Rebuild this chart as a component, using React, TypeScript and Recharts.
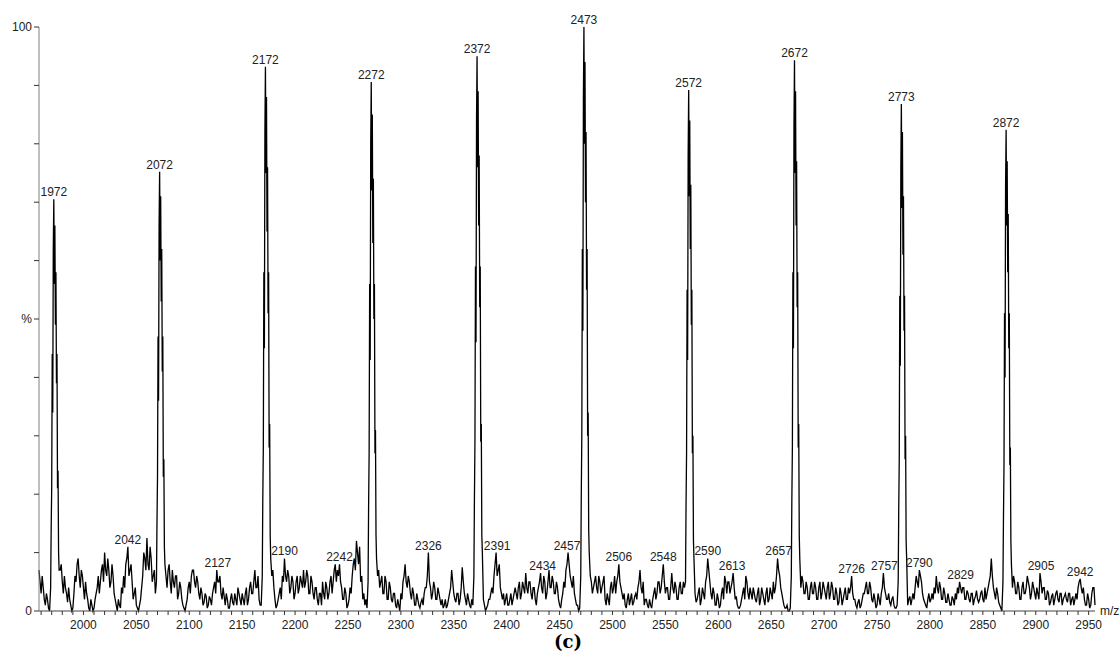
import React from "react";
import { LineChart, Line, XAxis, YAxis, ReferenceDot } from "recharts";

// Baseline noise sampled at even m/z (1958, 1960, ...), 25 values per row = 50 m/z
const EVEN_START = 1958;
const ODD_START = 1959;
const BASE_STEP = 2;
const baselineEven: number[] = [
  7, 3, 4, 1, 2, 0, 1, 0, 0, 0, 7, 5, 6, 3, 4, 1, 0.5, 6, 8, 6, 7, 4, 5, 2, 0,
  1, 0.5, 3, 6, 5, 8, 10, 6, 7, 5, 6, 2, 0, 1, 4, 6, 8, 11, 7, 5, 3, 1, 0, 2, 6,
  9, 12.5, 7, 9, 6, 3, 1, 0, 0, 0, 6, 7, 5, 7, 4, 6, 3, 4, 1, 0, 2, 5, 6, 7, 4,
  5, 2, 3, 1.5, 2.5, 1, 2, 3, 5, 7, 5, 3, 4, 1, 2, 0.5, 3, 1, 2, 4, 2, 3, 1, 4, 2,
  5, 3, 7, 4, 2, 1, 3, 0, 0, 0, 6, 4, 0.5, 2, 4, 6, 9, 5, 6, 4, 5, 3, 6, 4, 5,
  7, 5, 6, 3, 5, 2, 4, 1, 3, 5, 2, 4, 3, 6, 5, 8, 7, 8, 4, 2, 3, 1, 4, 6, 9,
  12, 8, 5, 2, 1, 0.5, 2, 0, 0, 0, 6, 4, 6, 3, 5, 2, 4, 1.5, 3, 0.5, 1, 3, 5, 8, 4,
  5, 2, 3, 1, 2, 0.5, 2, 3, 4, 10, 4, 3, 4, 2, 3, 1, 0.5, 2, 1, 3, 7, 3, 1.5, 3, 2,
  7.5, 3, 1, 2, 0.5, 1, 3, 0, 0, 0, 2, 0, 1, 2, 4, 6, 10, 7, 4, 2, 1, 3, 1, 3, 2,
  4, 2, 5, 3, 4, 6.5, 3, 5, 2, 4, 1, 4, 6.5, 3, 5, 3, 7, 4, 5, 3, 4, 1, 2, 5, 7,
  10, 6, 4, 3, 1, 0, 2, 0, 0, 0, 0, 5, 4, 6, 3, 5, 4, 6, 1, 2, 4, 3, 6, 5, 8,
  4, 2, 1, 2, 1, 3, 1.5, 3, 4, 7, 3, 1, 2, 0.5, 1, 2, 4, 3, 5, 4, 8, 3, 4, 2, 6.5,
  3, 4, 2, 5, 3, 4, 1, 0, 0, 0, 3, 2, 4, 2, 3, 5, 9, 5, 2, 3, 1, 2, 1, 4, 6,
  3, 5, 4, 6.5, 2, 1, 0.5, 2, 4, 6, 3, 4, 2, 3, 1.5, 4, 2, 3, 1, 4, 2, 3, 5, 4, 9,
  6, 3, 1, 0.5, 0, 0.5, 1, 0, 0, 0, 4, 5, 3, 4, 2, 5, 3, 4, 2, 5, 3, 4, 2, 5, 3,
  4, 2, 3, 1.5, 3, 2, 4, 2, 3, 6, 2, 1, 1.5, 0.5, 2, 3, 5, 3, 4, 1.5, 2, 1, 2, 3, 6.5,
  3, 2, 1.5, 2, 1, 0.5, 1, 0, 0, 0, 0, 2, 1, 3, 4, 5, 7, 5, 2, 1, 2, 1.5, 3, 4, 6,
  3, 4, 2, 3, 1.5, 2, 1, 2, 3, 4, 5, 3, 4, 2, 3, 1.5, 3, 2, 3.5, 1.5, 3, 2, 4, 3, 5,
  9, 4, 2, 3, 1, 0, 1, 0, 0, 0, 4, 5, 3, 4, 2, 5, 3, 6, 4, 3, 4, 2, 3, 6.5, 3,
  4, 2, 3, 1.5, 3, 2, 3.5, 1.5, 3, 2, 3, 1.5, 3, 2, 1, 3, 4, 5.5, 3, 2, 1, 2, 1, 4, 1,
];
// Baseline noise sampled at odd m/z (1959, 1961, ...)
const baselineOdd: number[] = [
  5, 6, 2, 3, 0.5, 0, 0, 0, 0, 0, 8, 3, 4, 1.5, 2, 0, 3, 5, 9, 4, 6, 2, 3, 0.5, 2,
  0, 2, 4, 3, 7, 5, 7, 9, 4, 8, 3, 1, 2, 0.5, 3, 4, 9, 6, 8, 2, 4, 0.5, 1, 4, 10,
  7, 8, 11, 5, 7, 2, 0, 0, 0, 0, 4, 8, 3, 5, 6, 2, 5, 2, 0.5, 1, 4, 3, 7, 5, 6,
  3, 4, 1, 3, 0.5, 2.5, 1, 4, 3, 5, 6, 2, 2.5, 3, 0.5, 2, 1.5, 3, 1, 3, 1, 2, 3, 1, 4,
  3, 5, 4, 6, 1, 0, 0, 0, 0, 0, 7, 2, 1, 3, 2, 5, 6, 7, 3, 6, 2, 5, 3, 6, 4,
  4, 7, 3, 6, 3, 4, 2, 3, 1, 3, 5, 2, 5, 3, 7, 5, 6, 5, 2, 4, 0.5, 2, 3, 8, 7,
  10, 11, 6, 3, 2, 0, 0, 0, 0, 0, 7, 5, 3, 6, 2, 5, 2, 3, 1, 2, 0, 2, 6, 5, 6,
  3, 4, 1, 3, 1, 1.5, 1, 4, 6, 5, 2, 5, 2, 4, 2, 2, 1, 0.5, 2, 4, 5, 2, 3, 1, 4,
  5, 2, 3, 1, 2, 0, 0, 0, 0, 0, 1, 0.5, 2, 3, 3, 8, 6, 8, 3, 3, 2, 1, 2, 1, 3,
  3, 4, 2, 5, 3, 4, 5, 3, 4, 2, 3, 5, 4, 6, 2, 5, 4, 6, 3, 5, 2, 0.5, 3, 4, 8,
  8, 5, 6, 2, 1, 0.5, 0, 0, 0, 0, 6, 3, 5, 4, 6, 3, 5, 2, 3, 1, 5, 4, 3, 6, 5,
  3, 3, 0.5, 3, 2, 1, 2.5, 2, 5, 4, 5, 2, 1, 2, 0.5, 3, 2, 5, 3, 6, 5, 4, 2, 4, 4,
  5, 2, 4, 3, 5, 0, 0, 0, 0, 0, 1.5, 3, 1, 4, 2, 6, 7, 3, 4, 1, 3, 0.5, 3, 2, 5,
  5, 3, 5, 4, 2.5, 0.5, 1, 3, 2, 5, 2, 3, 4, 2, 3, 1, 4, 2, 3, 1.5, 4, 2, 3, 6, 7,
  4, 2, 0.5, 1, 0, 0, 0, 0, 0, 0, 6, 3, 5, 2, 4, 3, 5, 2, 4, 2, 5, 3, 4, 2, 5,
  2, 4, 1, 4, 1, 3, 2, 4, 4, 3, 2, 0.5, 2, 1, 3, 4, 3, 5, 2, 3, 0.5, 3, 1, 4, 4,
  2, 3, 1, 2.5, 0.5, 1, 0, 0, 0, 0, 1, 2.5, 2, 2, 6, 4, 6, 3, 1.5, 0.5, 3, 2, 2, 3, 4,
  5, 2, 4, 1.5, 3, 1, 2.5, 1, 2, 3, 4, 4, 2, 3.5, 2, 3, 1, 2.5, 2, 2, 3.5, 1.5, 2, 4, 6,
  6, 3, 4, 1.5, 0.5, 0, 0, 0, 0, 0, 6, 3, 5, 2, 4, 3, 4, 5, 2, 5, 3, 4, 2, 5, 4,
  2, 3.5, 1, 2.5, 1, 3, 2, 3, 1, 2.5, 2, 3, 1, 2.5, 2, 2, 5, 4, 4, 1, 3, 0.5, 3, 4,
];

// Major peaks: centre m/z and intensity profile at fixed offsets from the centre
const peakCenters: number[] = [1972, 2072, 2172, 2272, 2372, 2473, 2572, 2672, 2773, 2872];
const PROFILE_OFFSETS: number[] = [-3, -2.5, -2, -1.5, -1, -0.5, 0, 0.5, 1, 1.5, 2, 2.5, 3, 3.5, 4, 4.5, 5];
const peak1972: number[] = [4, 14, 21, 44, 34, 62, 70.5, 56, 66, 49, 58, 39, 44, 21, 24, 10, 7];
const peak2072: number[] = [5, 15, 23, 47, 36, 66, 75.2, 60, 71, 53, 62, 41, 47, 23, 26, 11, 8];
const peak2172: number[] = [6, 19, 28, 58, 45, 82, 93.2, 75, 88, 65, 76, 51, 58, 28, 32, 13, 9];
const peak2272: number[] = [5, 18, 27, 56, 43, 80, 90.6, 72, 85, 63, 74, 50, 56, 27, 31, 13, 9];
const peak2372: number[] = [6, 19, 29, 59, 46, 84, 95, 76, 89, 66, 78, 52, 59, 29, 32, 13, 10];
const peak2473: number[] = [6, 20, 30, 62, 48, 88, 100, 80, 94, 70, 82, 55, 62, 30, 34, 14, 10];
const peak2572: number[] = [5, 18, 27, 55, 43, 78, 89.2, 71, 84, 62, 73, 49, 55, 27, 30, 12, 9];
const peak2672: number[] = [6, 19, 28, 58, 45, 83, 94.3, 75, 89, 66, 77, 52, 58, 28, 32, 13, 9];
const peak2773: number[] = [5, 17, 26, 54, 42, 76, 86.8, 69, 82, 61, 71, 48, 54, 26, 30, 12, 9];
const peak2872: number[] = [5, 16, 25, 51, 40, 73, 82.4, 66, 77, 58, 68, 45, 51, 25, 28, 12, 8];
const peakProfiles: number[][] = [
  peak1972, peak2072, peak2172, peak2272, peak2372,
  peak2473, peak2572, peak2672, peak2773, peak2872,
];

// Peak annotations
const labelMz: number[] = [
  1972, 2072, 2172, 2272, 2372, 2473, 2572, 2672, 2773, 2872,
  2042, 2127, 2190, 2242, 2326, 2391, 2434, 2457, 2506, 2548,
  2590, 2613, 2657, 2726, 2757, 2790, 2829, 2905, 2942,
];
const labelValue: number[] = [
  70.5, 75.2, 93.2, 90.6, 95, 100, 89.2, 94.3, 86.8, 82.4,
  11, 7, 9, 8, 10, 10, 6.5, 10, 8, 8,
  9, 6.5, 9, 6, 6.5, 7, 5, 6.5, 5.5,
];

const yTicks: number[] = [0, 10, 20, 30, 40, 50, 60, 70, 80, 90, 100];
const xLabelTicks: number[] = [2000, 2050, 2100, 2150, 2200, 2250, 2300, 2350, 2400, 2450, 2500, 2550, 2600, 2650, 2700, 2750, 2800, 2850, 2900, 2950];
const xTicks: number[] = Array.from({ length: 100 }, (_, i) => 1960 + i * 10);

type Pt = { mz: number; y: number };
const inPeak = (mz: number) => peakCenters.some((c) => mz >= c - 3.5 && mz <= c + 5.5);
const rows: Pt[] = [];
baselineEven.forEach((v, i) => {
  const mz = EVEN_START + i * BASE_STEP;
  if (!inPeak(mz)) rows.push({ mz, y: v });
});
baselineOdd.forEach((v, i) => {
  const mz = ODD_START + i * BASE_STEP;
  if (!inPeak(mz)) rows.push({ mz, y: v });
});
peakCenters.forEach((c, k) => {
  peakProfiles[k].forEach((v, j) => rows.push({ mz: c + PROFILE_OFFSETS[j], y: v }));
});
rows.sort((a, b) => a.mz - b.mz);

const FONT = "'Liberation Sans', Arial, sans-serif";

export default function App() {
  return (
    <div style={{ position: "absolute", left: 0, top: 0, width: 1120, height: 660, background: "#fff" }}>
      <LineChart width={1120} height={660} data={rows} margin={{ top: 27, right: 25, bottom: 19, left: 0 }}>
        <XAxis
          dataKey="mz"
          type="number"
          domain={[1958, 2956]}
          ticks={xTicks}
          interval={0}
          tickSize={4}
          tickMargin={5}
          stroke="#444"
          tickLine={{ stroke: "#333" }}
          height={30}
          tick={{ fontSize: 12, fill: "#222", fontFamily: FONT }}
          tickFormatter={(v: number) => (xLabelTicks.includes(v) ? String(v) : "")}
        />
        <YAxis
          type="number"
          domain={[0, 100]}
          ticks={yTicks}
          interval={0}
          width={39}
          tickSize={5}
          tickMargin={2}
          stroke="#808080"
          tickLine={{ stroke: "#333" }}
          tick={{ fontSize: 12, fill: "#222", fontFamily: FONT }}
          tickFormatter={(v: number) => (v === 100 ? "100" : v === 50 ? "%" : v === 0 ? "0" : "")}
        />
        <Line
          dataKey="y"
          type="linear"
          stroke="#000"
          strokeWidth={1.3}
          dot={false}
          activeDot={false}
          isAnimationActive={false}
        />
        {labelMz.map((m, i) => (
          <ReferenceDot
            key={m}
            x={m}
            y={labelValue[i]}
            r={0}
            fill="none"
            stroke="none"
            ifOverflow="visible"
            label={{ value: String(m), position: "top", offset: 3, fontSize: 12, fill: "#222", fontFamily: FONT }}
          />
        ))}
      </LineChart>
      <div style={{ position: "absolute", left: 1100, top: 604, fontFamily: FONT, fontSize: 12, lineHeight: "14px", color: "#222" }}>m/z</div>
      <div style={{ position: "absolute", left: 538, top: 633, width: 60, textAlign: "center", fontFamily: "'DejaVu Serif', serif", fontWeight: "bold", fontSize: 18, lineHeight: "18px", color: "#000" }}>(c)</div>
    </div>
  );
}
